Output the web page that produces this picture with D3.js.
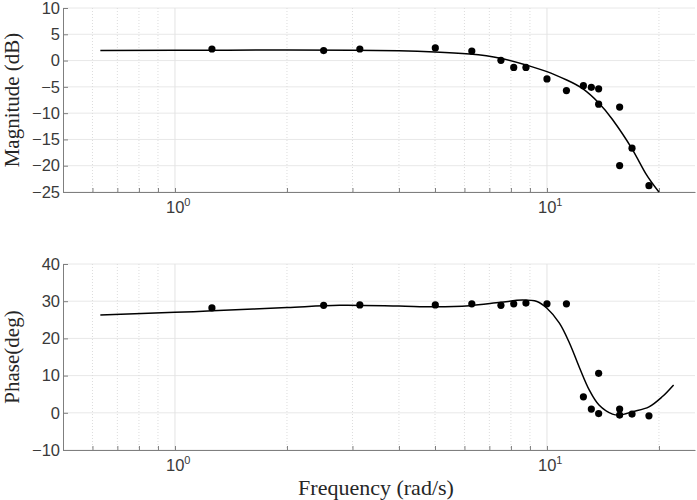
<!DOCTYPE html>
<html lang="en">
  <head>
    <meta charset="UTF-8" />
    <title>Bode</title>
    <style>
      body { margin: 0; background: #fff; }
      svg text { font-family: "Liberation Sans", Arial, sans-serif; }
      .lbl { font-family: "Liberation Serif", "Times New Roman", serif; fill: #262626; }
    </style>
    <script src="https://d3js.org/d3.v7.min.js"></script>
  </head>
  <body>
    <svg width="697" height="500"></svg>
    <script>
      // measured points (shared frequencies)
      var measFreq = [1.257, 2.51, 3.14, 5.01, 6.28, 7.52, 8.14, 8.78, 10.0, 11.28, 12.53, 13.16, 13.77, 13.77, 15.68, 15.68, 16.93, 18.8];
      var measMag = [2.2, 1.9, 2.2, 2.4, 1.8, 0.05, -1.3, -1.3, -3.5, -5.7, -4.77, -5.08, -5.38, -8.3, -8.85, -19.98, -16.67, -23.8];
      var measPhase = [28.2, 28.9, 29.0, 29.0, 29.3, 28.9, 29.3, 29.5, 29.3, 29.3, 4.3, 1.0, 10.6, -0.2, 1.0, -0.6, -0.35, -0.8];

      // fitted curves
      var magFitFreq = [0.63, 1, 2, 3, 4, 5, 6.2, 7.5, 8.8, 10, 11.3, 12.5, 13.8, 15, 16.9, 18.4, 20];
      var magFit = [1.9, 1.95, 2.0, 1.95, 1.85, 1.65, 1.25, 0.45, -0.84, -2.1, -3.7, -5.4, -8.1, -11.2, -16.7, -21.4, -25];
      var phaseFitFreq = [0.63, 1, 1.26, 2, 2.77, 4, 5, 6.2, 7.5, 8.6, 9.4, 10, 10.8, 11.5, 12.2, 13, 13.8, 15, 15.7, 17, 18.8, 20.4, 21.9];
      var phaseFit = [26.3, 27.0, 27.4, 28.3, 28.9, 28.7, 28.5, 28.8, 29.7, 30.3, 29.9, 28.1, 24.1, 18.7, 12.4, 6.1, 2.1, -0.35, -0.6, 0.3, 1.6, 4.3, 7.5];

      var majorX = [1, 10];
      var minorX = [0.6, 0.7, 0.8, 0.9, 2, 3, 4, 5, 6, 7, 8, 9, 20];
      var magTicks = [-25, -20, -15, -10, -5, 0, 5, 10];
      var phaseTicks = [-10, 0, 10, 20, 30, 40];

      var svg = d3.select("svg");
      var left = 63, right = 695;
      var x = d3.scaleLog().domain([0.5, 25]).range([left, right]);

      function panel(top, bottom, yDomain, yTicks, fFreq, fVal, mVal, label, curve) {
        var y = d3.scaleLinear().domain(yDomain).range([bottom, top]);
        var g = svg.append("g");

        // grid
        g.selectAll(".gy").data(yTicks).join("line")
          .attr("x1", left).attr("x2", right)
          .attr("y1", (d) => y(d)).attr("y2", (d) => y(d))
          .attr("stroke", "#e8e8e8").attr("stroke-width", 1);
        g.selectAll(".gxm").data(minorX).join("line")
          .attr("x1", (d) => x(d)).attr("x2", (d) => x(d))
          .attr("y1", top).attr("y2", bottom)
          .attr("stroke", "#dcdcdc").attr("stroke-dasharray", "1,2");
        g.selectAll(".gxM").data(majorX).join("line")
          .attr("x1", (d) => x(d)).attr("x2", (d) => x(d))
          .attr("y1", top).attr("y2", bottom)
          .attr("stroke", "#e3e3e3");

        // axes
        var ax = g.append("g").attr("transform", "translate(0," + bottom + ")")
          .call(d3.axisBottom(x).tickValues(majorX.concat(minorX)).tickSizeInner(-4).tickSizeOuter(0).tickFormat(""));
        var ay = g.append("g").attr("transform", "translate(" + left + ",0)")
          .call(d3.axisLeft(y).tickValues(yTicks).tickSizeInner(-5).tickSizeOuter(0).tickPadding(3));
        [ax, ay].forEach(function (a) {
          a.select(".domain").attr("stroke", "#7f7f7f");
          a.selectAll(".tick line").attr("stroke", "#7f7f7f");
          a.selectAll("text").attr("font-size", 16.5).attr("fill", "#3a3a3a")
            .attr("font-family", "'Liberation Sans', Arial, sans-serif");
        });

        // decade labels
        var t = g.selectAll(".dec").data(majorX).join("text")
          .attr("x", (d) => x(d) - 9).attr("y", bottom + 21)
          .attr("font-size", 16.5).attr("fill", "#3a3a3a");
        t.append("tspan").text("10");
        t.append("tspan").attr("dy", -7).attr("font-size", 11).text((d) => Math.round(Math.log10(d)));

        // fitted line
        var line = d3.line().curve(curve)
          .x((d, i) => x(fFreq[i])).y((d) => y(d));
        g.append("path").attr("d", line(fVal))
          .attr("fill", "none").attr("stroke", "#000").attr("stroke-width", 1.5);

        // measured dots
        g.selectAll(".pt").data(mVal).join("circle")
          .attr("cx", (d, i) => x(measFreq[i])).attr("cy", (d) => y(d))
          .attr("r", 3.6).attr("fill", "#000");

        // y label
        g.append("text").attr("class", "lbl")
          .attr("transform", "translate(19," + (top + bottom) / 2 + ") rotate(-90)")
          .attr("text-anchor", "middle").attr("font-size", 21).text(label);
      }

      panel(8, 192, [-25, 10], magTicks, magFitFreq, magFit, measMag, "Magnitude (dB)", d3.curveNatural);
      panel(264, 450, [-10, 40], phaseTicks, phaseFitFreq, phaseFit, measPhase, "Phase(deg)", d3.curveCatmullRom);

      svg.append("text").attr("class", "lbl")
        .attr("x", (left + right) / 2 - 3).attr("y", 495)
        .attr("text-anchor", "middle").attr("font-size", 22).text("Frequency (rad/s)");
    </script>
  </body>
</html>
